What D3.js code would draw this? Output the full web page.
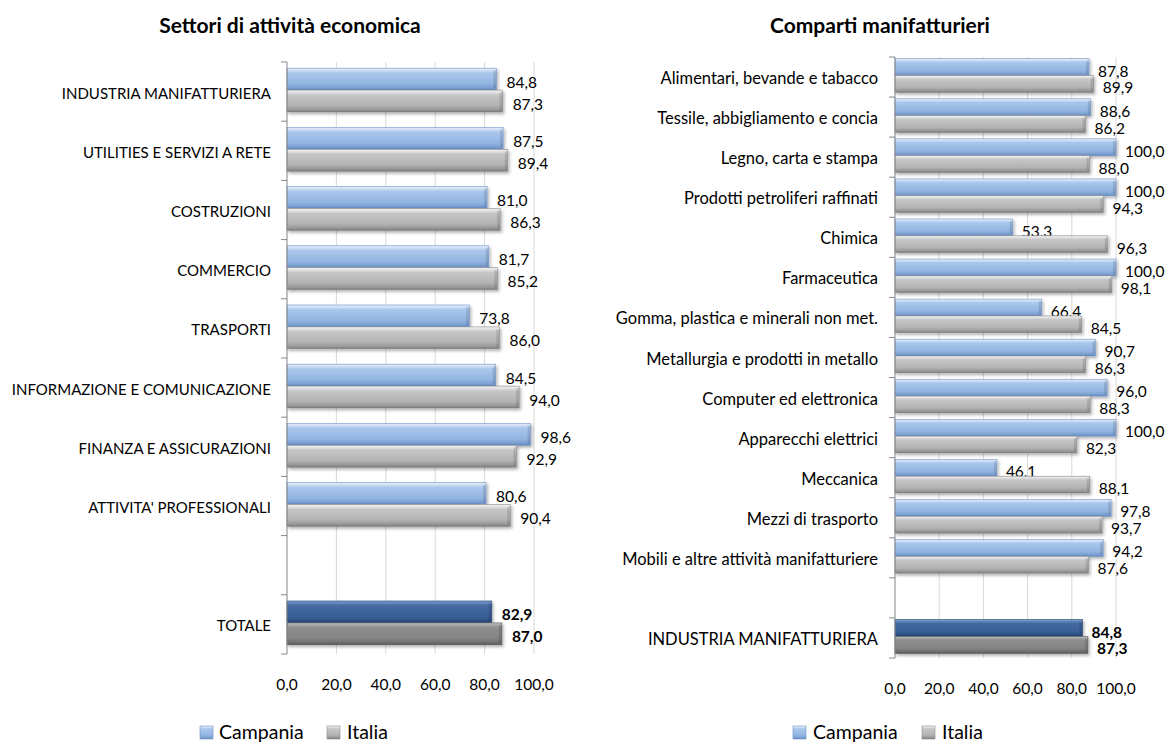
<!DOCTYPE html>
<html>
<head>
<meta charset="utf-8">
<script src="https://cdn.jsdelivr.net/npm/d3@7/dist/d3.min.js"></script>
<style>
  html, body { margin: 0; padding: 0; background: #ffffff; }
  svg { display: block; font-family: Lato, "Open Sans", sans-serif; }
</style>
</head>
<body>
<svg id="chart" width="1168" height="744"></svg>
<script>
// ---- Settori di attività economica ----
const sectors = [
  "INDUSTRIA MANIFATTURIERA",
  "UTILITIES E SERVIZI A RETE",
  "COSTRUZIONI",
  "COMMERCIO",
  "TRASPORTI",
  "INFORMAZIONE E COMUNICAZIONE",
  "FINANZA E ASSICURAZIONI",
  "ATTIVITA' PROFESSIONALI",
  "",
  "TOTALE"
];
const sectorsCampania = [84.8, 87.5, 81.0, 81.7, 73.8, 84.5, 98.6, 80.6, null, 82.9];
const sectorsItalia   = [87.3, 89.4, 86.3, 85.2, 86.0, 94.0, 92.9, 90.4, null, 87.0];

// ---- Comparti manifatturieri ----
const branches = [
  "Alimentari, bevande e tabacco",
  "Tessile, abbigliamento e concia",
  "Legno, carta e stampa",
  "Prodotti petroliferi raffinati",
  "Chimica",
  "Farmaceutica",
  "Gomma, plastica e minerali non met.",
  "Metallurgia e prodotti in metallo",
  "Computer ed elettronica",
  "Apparecchi elettrici",
  "Meccanica",
  "Mezzi di trasporto",
  "Mobili e altre attività manifatturiere",
  "",
  "INDUSTRIA MANIFATTURIERA"
];
const branchesCampania = [87.8, 88.6, 100.0, 100.0, 53.3, 100.0, 66.4, 90.7, 96.0, 100.0, 46.1, 97.8, 94.2, null, 84.8];
const branchesItalia   = [89.9, 86.2, 88.0, 94.3, 96.3, 98.1, 84.5, 86.3, 88.3, 82.3, 88.1, 93.7, 87.6, null, 87.3];

const xTicks = [0, 20, 40, 60, 80, 100];
const seriesNames = ["Campania", "Italia"];

const fmt = v => d3.format(".1f")(v).replace(".", ",");

const svg = d3.select("#chart");
const defs = svg.append("defs");

// vertical gradients giving the bars their rounded, bevelled look
function gradient(id, stops) {
  const g = defs.append("linearGradient").attr("id", id)
    .attr("x1", 0).attr("y1", 0).attr("x2", 0).attr("y2", 1);
  stops.forEach(([o, c]) => g.append("stop").attr("offset", o).attr("stop-color", c));
}
gradient("gCampania", [[0, "#e6effa"], [0.12, "#c9dcf3"], [0.22, "#a9c6ec"], [0.7, "#93b5e2"], [0.9, "#7a9fd1"], [1, "#5f84b8"]]);
gradient("gItalia",   [[0, "#f4f4f4"], [0.12, "#dedede"], [0.22, "#c6c6c6"], [0.7, "#b3b3b3"], [0.9, "#979797"], [1, "#777777"]]);
gradient("gCampaniaTot", [[0, "#7d9fcc"], [0.12, "#5a80b6"], [0.22, "#44699f"], [0.7, "#3a6098"], [0.9, "#2e4f80"], [1, "#213b63"]]);
gradient("gItaliaTot",   [[0, "#c2c2c2"], [0.12, "#a2a2a2"], [0.22, "#8e8e8e"], [0.7, "#848484"], [0.9, "#6e6e6e"], [1, "#545454"]]);

const shadow = defs.append("filter").attr("id", "shadow")
  .attr("x", "-5%").attr("y", "-30%").attr("width", "115%").attr("height", "180%");
shadow.append("feDropShadow").attr("dx", 1.5).attr("dy", 2).attr("stdDeviation", 1.4)
  .attr("flood-color", "#000").attr("flood-opacity", 0.3);

function drawPanel(opts) {
  const g = svg.append("g");
  const x = d3.scaleLinear().domain([0, 100]).range([opts.x0, opts.x1]);
  const y = d3.scaleBand().domain(d3.range(opts.categories.length)).range([opts.top, opts.bottom]);
  const bw = y.bandwidth();
  const barH = bw * opts.barFrac;
  const lastIdx = opts.categories.length - 1;

  // title
  g.append("text")
    .attr("x", opts.titleX).attr("y", 33)
    .attr("text-anchor", "middle")
    .attr("font-size", opts.titleSize).attr("font-weight", "bold").attr("fill", "#000")
    .text(opts.title);

  // vertical gridlines
  g.selectAll(".grid").data(xTicks.slice(1)).join("line")
    .attr("x1", d => x(d)).attr("x2", d => x(d))
    .attr("y1", opts.top).attr("y2", opts.bottom)
    .attr("stroke", "#d9d9d9").attr("stroke-width", 1);

  // bars
  const rows = opts.categories.map((c, i) => ({ i, c, a: opts.campania[i], b: opts.italia[i] }))
    .filter(r => r.a != null);
  const yc = i => y(i) + bw / 2 + opts.shift;

  rows.forEach(r => {
    const tot = r.i === lastIdx;
    const pair = [
      { v: r.a, top: yc(r.i) - barH, fill: tot ? "url(#gCampaniaTot)" : "url(#gCampania)", stroke: tot ? "#24426e" : "#6f93c6" },
      { v: r.b, top: yc(r.i),        fill: tot ? "url(#gItaliaTot)"   : "url(#gItalia)",   stroke: tot ? "#5a5a5a" : "#8a8a8a" }
    ];
    pair.forEach(p => {
      g.append("rect")
        .attr("x", x(0)).attr("y", p.top)
        .attr("width", x(p.v) - x(0)).attr("height", barH)
        .attr("fill", p.fill).attr("stroke", p.stroke).attr("stroke-width", 0.6)
        .attr("filter", "url(#shadow)");
      // bevelled end cap
      g.append("rect")
        .attr("x", x(p.v) - 3).attr("y", p.top + 2)
        .attr("width", 2.5).attr("height", barH - 4)
        .attr("fill", "#000").attr("opacity", 0.12);
      g.append("text")
        .attr("x", x(p.v) + opts.labelGap).attr("y", p.top + barH / 2 + opts.labelDy)
        .attr("dominant-baseline", "central")
        .attr("font-size", opts.valueSize).attr("fill", "#000")
        .attr("font-weight", tot ? "bold" : "normal")
        .text(fmt(p.v));
    });
  });

  // category axis with outward tick marks at band edges
  const yAxis = g.append("g");
  yAxis.append("line")
    .attr("x1", x(0)).attr("x2", x(0))
    .attr("y1", opts.top).attr("y2", opts.bottom)
    .attr("stroke", "#868686");
  yAxis.selectAll(".tk").data(d3.range(opts.categories.length + 1)).join("line")
    .attr("x1", x(0) - 6).attr("x2", x(0))
    .attr("y1", d => opts.top + d * bw).attr("y2", d => opts.top + d * bw)
    .attr("stroke", "#868686");
  yAxis.selectAll(".lbl").data(opts.categories).join("text")
    .attr("x", opts.labelRight)
    .attr("y", (d, i) => y(i) + bw / 2 + 1)
    .attr("text-anchor", "end").attr("dominant-baseline", "central")
    .attr("font-size", opts.catSize).attr("fill", "#000")
    .text(d => d);

  // value axis labels
  g.selectAll(".xl").data(xTicks).join("text")
    .attr("x", d => x(d)).attr("y", opts.tickY)
    .attr("text-anchor", "middle").attr("dominant-baseline", "central")
    .attr("font-size", opts.tickSize).attr("fill", "#000")
    .text(d => fmt(d));

  // legend
  const lg = g.append("g");
  const fills = ["url(#gCampania)", "url(#gItalia)"];
  const strokes = ["#6f93c6", "#8a8a8a"];
  opts.legend.forEach((pos, k) => {
    lg.append("rect")
      .attr("x", pos.sx).attr("y", 726).attr("width", 13).attr("height", 13)
      .attr("fill", fills[k]).attr("stroke", strokes[k]).attr("stroke-width", 0.6);
    lg.append("text")
      .attr("x", pos.tx).attr("y", 739)
      .attr("font-size", 19.5).attr("fill", "#000")
      .text(seriesNames[k]);
  });
}

drawPanel({
  title: "Settori di attività economica", titleX: 290, titleSize: 21,
  categories: sectors, campania: sectorsCampania, italia: sectorsItalia,
  x0: 287, x1: 534, top: 62, bottom: 654, shift: -1.5, barFrac: 0.37,
  labelGap: 10, labelDy: 2.5, valueSize: 15.5, catSize: 15, labelRight: 271,
  tickY: 684, tickSize: 15.5,
  legend: [{ sx: 200, tx: 219 }, { sx: 327, tx: 347 }]
});

drawPanel({
  title: "Comparti manifatturieri", titleX: 880, titleSize: 21,
  categories: branches, campania: branchesCampania, italia: branchesItalia,
  x0: 895, x1: 1116, top: 57, bottom: 658, shift: -1.5, barFrac: 0.42,
  labelGap: 9, labelDy: 3.5, valueSize: 15.5, catSize: 16.5, labelRight: 878,
  tickY: 688, tickSize: 15.5,
  legend: [{ sx: 793, tx: 813 }, { sx: 922, tx: 942 }]
});
</script>
</body>
</html>
